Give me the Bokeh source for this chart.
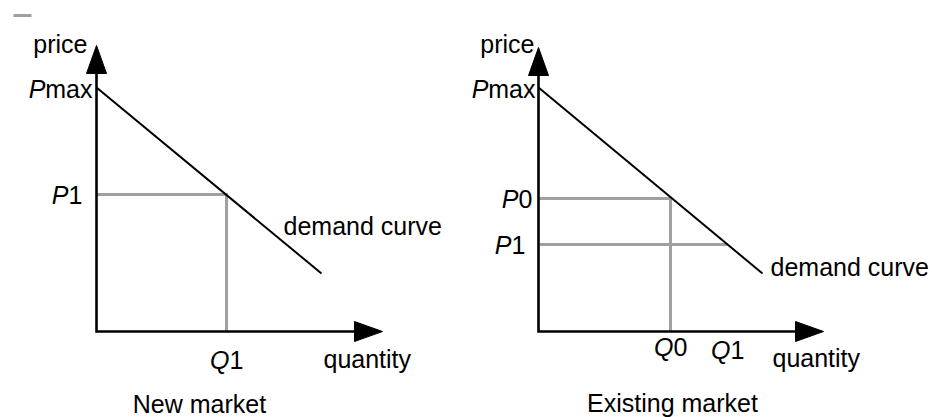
from bokeh.plotting import figure
from bokeh.models import Range1d
from bokeh.layouts import row
from bokeh.core.properties import value
from bokeh.embed import file_html
from bokeh.resources import INLINE

# ---------------- data (units: price / quantity, arbitrary) ----------------
# New market
new_axis_tip = [286, 286]          # quantity-axis end, price-axis end
new_pmax = 244
new_demand_end = [225, 58]         # (quantity, price) where the demand curve stops
new_p1 = 137
new_q1 = 130

# Existing market
old_axis_tip = [285, 284]
old_pmax = 244
old_demand_end = [224, 58]
old_p0 = 133
old_q0 = 132
old_p1 = 87
old_q1 = 189

titles = ["New market", "Existing market"]

# ---------------- style ----------------
FONT = value("Liberation Sans")
SIZE = "25px"
GRAY = "#a0a0a0"
HL, HW = 28, 10   # arrow head length / half width
W, H = 466, 417
BASE_FIX = -9     # renderer places the baseline lower; compensate


def make_fig(x_origin):
    p = figure(width=W, height=H,
               x_range=Range1d(-x_origin, W - x_origin),
               y_range=Range1d(-86, H - 86),
               x_axis_location=None, y_axis_location=None,
               output_backend="svg", toolbar_location=None, min_border=0)
    p.grid.visible = False
    p.outline_line_color = None
    p.background_fill_color = "white"
    p.border_fill_color = "white"
    return p


def txt(p, x, y, s, align, dx, dy, italic=False):
    p.text(x=[x], y=[y], text=[s], text_font=FONT, text_font_size=SIZE,
           text_font_style="italic" if italic else "normal",
           text_align=align, text_baseline="alphabetic",
           x_offset=dx, y_offset=dy + BASE_FIX, text_color="black")


def axes(p, tip):
    xt, yt = tip
    p.line(x=[0, 0, xt - HL + 2], y=[yt - HL + 2, 0, 0], line_width=2.6,
           line_color="black", line_join="miter")
    p.patches(xs=[[-HW, HW, 0], [xt - HL, xt - HL, xt]],
              ys=[[yt - HL, yt - HL, yt], [-HW, HW, 0]],
              fill_color="black", line_color="black", line_width=1)


def demand(p, pmax, end):
    p.line(x=[0, end[0]], y=[pmax, end[1]], line_width=2, line_color="black")


# ---------------- New market ----------------
p1 = make_fig(96)
p1.line(x=[-83, -65], y=[316, 316], line_width=3, line_color=GRAY)
p1.line(x=[0, new_q1, new_q1], y=[new_p1, new_p1, 0], line_width=3,
        line_color=GRAY, line_join="miter")
demand(p1, new_pmax, new_demand_end)
axes(p1, new_axis_tip)

txt(p1, 0, new_axis_tip[1], "price", "right", -9, 7)
txt(p1, 0, new_pmax, "max", "right", -4, 10)
txt(p1, 0, new_pmax, "P", "right", -51, 10, italic=True)
txt(p1, 0, new_p1, "1", "right", -14, 9)
txt(p1, 0, new_p1, "P", "right", -28, 9, italic=True)
txt(p1, new_q1, 0, "Q", "right", 3, 37, italic=True)
txt(p1, new_q1, 0, "1", "left", 3, 37)
txt(p1, new_axis_tip[0], 0, "quantity", "left", -59, 36)
txt(p1, new_demand_end[0], new_demand_end[1], "demand curve", "left", -38, -39)
txt(p1, 0, 0, titles[0], "center", 103, 81)

# ---------------- Existing market ----------------
p2 = make_fig(72)
p2.multi_line(xs=[[0, old_q0], [old_q0, old_q0], [0, old_q1]],
              ys=[[old_p0, old_p0], [0, old_p0], [old_p1, old_p1]],
              line_width=3, line_color=GRAY)
demand(p2, old_pmax, old_demand_end)
axes(p2, old_axis_tip)

txt(p2, 0, old_axis_tip[1], "price", "right", -4, 5)
txt(p2, 0, old_pmax, "max", "right", -3, 10)
txt(p2, 0, old_pmax, "P", "right", -50, 10, italic=True)
txt(p2, 0, old_p0, "0", "right", -6, 9)
txt(p2, 0, old_p0, "P", "right", -20, 9, italic=True)
txt(p2, 0, old_p1, "1", "right", -13, 9)
txt(p2, 0, old_p1, "P", "right", -27, 9, italic=True)
txt(p2, old_q0, 0, "Q", "right", 3, 24, italic=True)
txt(p2, old_q0, 0, "0", "left", 3, 24)
txt(p2, old_q1, 0, "Q", "right", 3, 27, italic=True)
txt(p2, old_q1, 0, "1", "left", 3, 27)
txt(p2, old_axis_tip[0], 0, "quantity", "left", -51, 35)
txt(p2, old_demand_end[0], old_demand_end[1], "demand curve", "left", 8, 2)
txt(p2, 0, 0, titles[1], "center", 134, 80)

layout = row(p1, p2)
open("out.html", "w").write(file_html(layout, INLINE))
